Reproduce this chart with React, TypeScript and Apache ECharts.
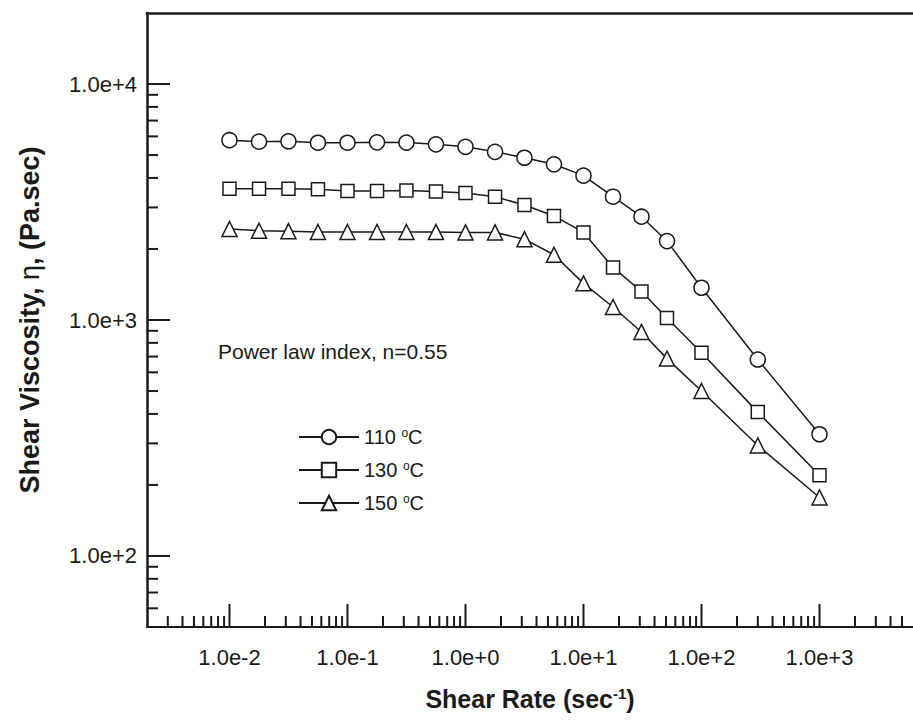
import React, { useEffect, useRef } from "react";
import * as echarts from "echarts";

// Shear rate (1/s) at which viscosity was measured
const SHEAR_RATE = [0.01, 0.0178, 0.0316, 0.0562, 0.1, 0.178, 0.316, 0.562, 1.0, 1.78, 3.16, 5.62, 10, 17.8, 31, 51, 100, 300, 1000];
// Shear viscosity (Pa.s)
const ETA_110 = [5780, 5700, 5720, 5640, 5640, 5660, 5650, 5550, 5420, 5160, 4870, 4570, 4090, 3330, 2740, 2160, 1370, 680, 328];
const ETA_130 = [3600, 3600, 3600, 3580, 3520, 3520, 3540, 3500, 3450, 3330, 3070, 2760, 2350, 1670, 1320, 1020, 727, 407, 220];
const ETA_150 = [2430, 2390, 2380, 2360, 2360, 2360, 2360, 2360, 2350, 2350, 2200, 1890, 1430, 1135, 890, 686, 500, 294, 177];
const SERIES_NAMES = ["110", "130", "150"];
const SERIES_SYMBOLS = ["circle", "rect", "triangle"];

const X_MIN = 0.002;
const X_MAX = 6200;
const Y_MIN = 50;
const Y_MAX = 20000;
const X_MAJOR = [0.01, 0.1, 1, 10, 100, 1000];
const Y_MAJOR = [100, 1000, 10000];
const X_MINOR: number[] = [];
for (let k = -3; k <= 3; k++) for (let m = 2; m <= 9; m++) { const v = m * Math.pow(10, k); if (v > X_MIN * 1.05 && v < 5500) X_MINOR.push(v); }
const Y_MINOR: number[] = [];
for (let k = 1; k <= 4; k++) for (let m = 2; m <= 9; m++) { const v = m * Math.pow(10, k); if (v > Y_MIN * 1.05 && v < Y_MAX * 0.95) Y_MINOR.push(v); }

const FONT = "'Liberation Sans', Arial, Helvetica, sans-serif";
const INK = "#1a1a1a";

const fmtExp = (v: number) => {
  const e = Math.round(Math.log10(v));
  return `1.0e${e >= 0 ? "+" : "-"}${Math.abs(e)}`;
};

export default function App() {
  const ref = useRef<HTMLDivElement>(null);
  useEffect(() => {
    if (!ref.current) return;
    const chart = echarts.init(ref.current, null, { renderer: "svg" });
    const tickData: number[][] = [
      ...X_MAJOR.map((v) => [v, Y_MIN, 0, -23]),
      ...X_MINOR.map((v) => [v, Y_MIN, 0, -11]),
      ...Y_MAJOR.map((v) => [X_MIN, v, 23, 0]),
      ...Y_MINOR.map((v) => [X_MIN, v, 11, 0]),
    ];
    const dataSets = [ETA_110, ETA_130, ETA_150];
    chart.setOption({
      animation: false,
      backgroundColor: "#fff",
      grid: { left: 147, top: 13, right: 0, bottom: 95, containLabel: false, outerBoundsMode: "none" },
      legend: {
        orient: "vertical",
        left: 298,
        top: 427,
        padding: 0,
        itemWidth: 60,
        itemHeight: 18,
        itemGap: 13,
        data: SERIES_NAMES,
        formatter: (n: string) => `${n} {sup|o}C`,
        textStyle: {
          fontFamily: FONT,
          fontSize: 20,
          color: INK,
          lineHeight: 20,
          rich: { sup: { fontFamily: FONT, fontSize: 12, lineHeight: 12, verticalAlign: "top", color: INK } },
        },
      },
      xAxis: [
        {
          type: "log",
          min: X_MIN,
          max: X_MAX,
          position: "bottom",
          axisLine: { lineStyle: { color: INK, width: 2 } },
          axisTick: { show: false },
          splitLine: { show: false },
          minorTick: { show: false },
          axisLabel: {
            formatter: fmtExp,
            showMinLabel: false,
            showMaxLabel: false,
            margin: 19,
            fontFamily: FONT,
            fontSize: 22,
            color: INK,
          },
          name: "Shear Rate (sec{sup|-1})",
          nameLocation: "middle",
          nameGap: 59,
          nameTextStyle: {
            fontFamily: FONT,
            fontSize: 25,
            fontWeight: "bold",
            color: INK,
            lineHeight: 26,
            rich: { sup: { fontFamily: FONT, fontSize: 15, fontWeight: "bold", lineHeight: 15, verticalAlign: "top", color: INK } },
          },
        },
        {
          type: "log",
          min: X_MIN,
          max: X_MAX,
          position: "top",
          axisLine: { lineStyle: { color: INK, width: 2.5 } },
          axisTick: { show: false },
          axisLabel: { show: false },
          splitLine: { show: false },
        },
      ],
      yAxis: {
        type: "log",
        min: Y_MIN,
        max: Y_MAX,
        axisLine: { lineStyle: { color: INK, width: 2.5 } },
        axisTick: { show: false },
        splitLine: { show: false },
        axisLabel: {
          formatter: fmtExp,
          showMinLabel: false,
          showMaxLabel: false,
          margin: 10,
          fontFamily: FONT,
          fontSize: 22,
          color: INK,
        },
        name: "Shear Viscosity, {eta|η}, (Pa.sec)",
        nameLocation: "middle",
        nameGap: 104,
        nameTextStyle: {
          fontFamily: FONT,
          fontSize: 27,
          fontWeight: "bold",
          color: INK,
          rich: { eta: { fontFamily: FONT, fontSize: 27, fontWeight: "normal", color: INK } },
        },
      },
      graphic: [
        {
          type: "text",
          left: 218,
          top: 341,
          style: { text: "Power law index, n=0.55", fontFamily: FONT, fontSize: 21, fill: INK },
        },
      ],
      series: [
        ...SERIES_NAMES.map((name, i) => ({
          name,
          type: "line",
          xAxisIndex: 0,
          data: SHEAR_RATE.map((x, j) => [x, dataSets[i][j]]),
          symbol: SERIES_SYMBOLS[i],
          symbolSize: i === 1 ? 13 : 15,
          showAllSymbol: true,
          lineStyle: { color: INK, width: 1.5 },
          itemStyle: { color: "#fff", borderColor: INK, borderWidth: 1.5 },
          emphasis: { disabled: true },
          z: 3,
        })),
        {
          type: "custom",
          name: "ticks",
          xAxisIndex: 0,
          silent: true,
          clip: false,
          data: tickData,
          encode: { x: 0, y: 1 },
          renderItem: (_p: any, api: any) => {
            const pt = api.coord([api.value(0), api.value(1)]);
            return {
              type: "line",
              shape: { x1: pt[0], y1: pt[1], x2: pt[0] + api.value(2), y2: pt[1] + api.value(3) },
              style: { stroke: INK, lineWidth: 2 },
            };
          },
          z: 2,
        },
      ],
    });
    return () => chart.dispose();
  }, []);
  return <div ref={ref} style={{ position: "fixed", left: 0, top: 0, width: 913, height: 722 }} />;
}
